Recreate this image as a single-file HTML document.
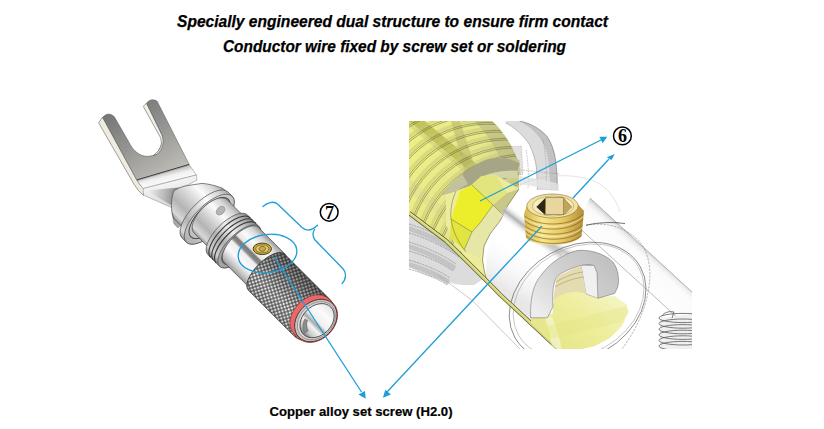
<!DOCTYPE html>
<html><head><meta charset="utf-8">
<style>
html,body{margin:0;padding:0;background:#fff;}
body{width:824px;height:429px;overflow:hidden;position:relative;font-family:"Liberation Sans",sans-serif;}
svg{position:absolute;left:0;top:0;}
</style></head>
<body>
<svg width="824" height="429" viewBox="0 0 824 429">
<defs>
<linearGradient id="spadeG" gradientUnits="userSpaceOnUse" x1="120" y1="100" x2="170" y2="180">
 <stop offset="0" stop-color="#727272"/><stop offset="0.45" stop-color="#929290"/><stop offset="1" stop-color="#c2c0ba"/>
</linearGradient>
<linearGradient id="bendG" gradientUnits="userSpaceOnUse" x1="160" y1="172" x2="163" y2="184">
 <stop offset="0" stop-color="#b8b8b8"/><stop offset="0.5" stop-color="#f2f2f2"/><stop offset="1" stop-color="#fafafa"/>
</linearGradient>
<linearGradient id="neckG" gradientUnits="userSpaceOnUse" x1="160" y1="185" x2="165" y2="205">
 <stop offset="0" stop-color="#f4f4f4"/><stop offset="1" stop-color="#d8d8d8"/>
</linearGradient>
<linearGradient id="silverG" x1="0" y1="0" x2="0" y2="1">
 <stop offset="0" stop-color="#a8a8a8"/><stop offset="0.12" stop-color="#d6d6d6"/><stop offset="0.32" stop-color="#fbfbfb"/><stop offset="0.55" stop-color="#d2d2d2"/><stop offset="0.75" stop-color="#b4b4b4"/><stop offset="0.92" stop-color="#d8d8d8"/><stop offset="1" stop-color="#9a9a9a"/>
</linearGradient>
<linearGradient id="silverG2" x1="0" y1="0" x2="0" y2="1">
 <stop offset="0" stop-color="#8a8a8a"/><stop offset="0.2" stop-color="#c8c8c8"/><stop offset="0.4" stop-color="#eeeeee"/><stop offset="0.65" stop-color="#b0b0b0"/><stop offset="0.9" stop-color="#d0d0d0"/><stop offset="1" stop-color="#8a8a8a"/>
</linearGradient>
<linearGradient id="silverG3" x1="0" y1="0" x2="0" y2="1">
 <stop offset="0" stop-color="#9a9a9a"/><stop offset="0.12" stop-color="#d8d8d8"/><stop offset="0.28" stop-color="#fafafa"/><stop offset="0.42" stop-color="#e6e6e6"/><stop offset="0.46" stop-color="#7a7a7a"/><stop offset="0.53" stop-color="#8a8a8a"/><stop offset="0.58" stop-color="#eeeeee"/><stop offset="0.75" stop-color="#fafafa"/><stop offset="0.9" stop-color="#c8c8c8"/><stop offset="1" stop-color="#9a9a9a"/>
</linearGradient>
<linearGradient id="faceG" x1="0" y1="0" x2="0" y2="1">
 <stop offset="0" stop-color="#c4c4c4"/><stop offset="0.5" stop-color="#e4e4e4"/><stop offset="1" stop-color="#b0b0b0"/>
</linearGradient>
<linearGradient id="holeG" x1="0" y1="0" x2="0" y2="1">
 <stop offset="0" stop-color="#e4e4e4"/><stop offset="0.25" stop-color="#fbfbfb"/><stop offset="0.5" stop-color="#f0f0f0"/><stop offset="0.6" stop-color="#a8a8a8"/><stop offset="0.7" stop-color="#f4f4f4"/><stop offset="0.88" stop-color="#c8c8c8"/><stop offset="1" stop-color="#7a7a7a"/>
</linearGradient>
<pattern id="knurlP" patternUnits="userSpaceOnUse" width="3.3" height="3.3" patternTransform="rotate(-62)">
 <rect width="3.3" height="3.3" fill="#444"/><rect x="0.5" y="0.5" width="2.35" height="2.35" fill="#eeeeee"/>
</pattern>
<linearGradient id="knurlShade" x1="0" y1="0" x2="0" y2="1">
 <stop offset="0" stop-color="#000" stop-opacity="0.45"/><stop offset="0.35" stop-color="#000" stop-opacity="0.25"/><stop offset="0.7" stop-color="#000" stop-opacity="0.0"/><stop offset="1" stop-color="#000" stop-opacity="0.12"/>
</linearGradient>
<clipPath id="rclip"><rect x="409" y="121" width="283" height="228"/></clipPath>
<linearGradient id="outerTopG" gradientUnits="userSpaceOnUse" x1="650" y1="253" x2="634" y2="271">
 <stop offset="0" stop-color="#d6d6d6"/><stop offset="0.12" stop-color="#eeeeee"/><stop offset="0.3" stop-color="#fbfbfb"/><stop offset="1" stop-color="#fdfdfd"/>
</linearGradient>
<linearGradient id="bandG" gradientUnits="userSpaceOnUse" x1="565" y1="228" x2="548" y2="250">
 <stop offset="0" stop-color="#fff"/><stop offset="0.5" stop-color="#b4b4b4"/><stop offset="1" stop-color="#f4f4f4"/>
</linearGradient>
<linearGradient id="slotYG" gradientUnits="userSpaceOnUse" x1="560" y1="345" x2="610" y2="285">
 <stop offset="0" stop-color="#e6e88a"/><stop offset="0.5" stop-color="#eeee9e"/><stop offset="1" stop-color="#f5f5c8"/>
</linearGradient>
<linearGradient id="archG" gradientUnits="userSpaceOnUse" x1="600" y1="255" x2="540" y2="315">
 <stop offset="0" stop-color="#c2c2c2"/><stop offset="0.5" stop-color="#d2d2d2"/><stop offset="1" stop-color="#ededed"/>
</linearGradient>
<linearGradient id="screwG" x1="0" y1="0" x2="1" y2="0">
 <stop offset="0" stop-color="#d6b44c"/><stop offset="0.3" stop-color="#f8e68c"/><stop offset="0.65" stop-color="#e6c866"/><stop offset="1" stop-color="#b48e36"/>
</linearGradient>
<linearGradient id="housLowG" gradientUnits="userSpaceOnUse" x1="530" y1="250" x2="505" y2="290">
 <stop offset="0" stop-color="#fff" stop-opacity="0"/><stop offset="1" stop-color="#d8d8d8"/>
</linearGradient>
<linearGradient id="condG" gradientUnits="userSpaceOnUse" x1="420" y1="140" x2="510" y2="175">
 <stop offset="0" stop-color="#ecee86"/><stop offset="0.6" stop-color="#e6e88c"/><stop offset="1" stop-color="#cfcf90"/>
</linearGradient>
<clipPath id="condClip"><path d="M409,121 L492,121 C502,130 511,144 515,154 C517.5,159 519,162 519.4,164.2 L519,189 L508,205 L500,221 L490,234 L484,246 L482.5,260 L484.5,272 L487,281 L445.6,240.5 L409,213 Z"/></clipPath>
<linearGradient id="neckTri" gradientUnits="userSpaceOnUse" x1="148" y1="192" x2="176" y2="195">
 <stop offset="0" stop-color="#f0f0f0"/><stop offset="0.6" stop-color="#b8b8b8"/><stop offset="1" stop-color="#8a8a8a"/>
</linearGradient>
<linearGradient id="bandA" gradientUnits="userSpaceOnUse" x1="537" y1="225.5" x2="527" y2="238.5">
 <stop offset="0" stop-color="#fff" stop-opacity="0"/><stop offset="0.5" stop-color="#b0b0b0"/><stop offset="1" stop-color="#fff" stop-opacity="0"/>
</linearGradient>
<linearGradient id="bandB" gradientUnits="userSpaceOnUse" x1="581.5" y1="251.5" x2="574.5" y2="265.5">
 <stop offset="0" stop-color="#fff" stop-opacity="0"/><stop offset="0.5" stop-color="#c4c4c4"/><stop offset="1" stop-color="#fff" stop-opacity="0"/>
</linearGradient>
</defs>
<g font-family="Liberation Sans" font-weight="bold" font-style="italic" font-size="16" fill="#000" stroke="#000" stroke-width="0.25">
<text x="177" y="27" textLength="431" lengthAdjust="spacingAndGlyphs">Specially engineered dual structure to ensure firm contact</text>
<text x="223" y="51.8" textLength="343" lengthAdjust="spacingAndGlyphs">Conductor wire fixed by screw set or soldering</text>
</g>
<text x="269.5" y="415.5" font-family="Liberation Sans" font-weight="bold" font-size="13" textLength="183" lengthAdjust="spacingAndGlyphs" fill="#000" stroke="#000" stroke-width="0.2">Copper alloy set screw (H2.0)</text>
<g id="left">
<!-- spade light strip (left prong thickness) -->
<path d="M98.6,122.8 L102.6,117.2 L137,180.2 Q140,185.5 144,189 L143.5,195.5 Q138,191 134.2,184.5 Z" fill="#efebe0" stroke="#444" stroke-width="0.5"/>
<!-- spade top face -->
<path d="M102.6,117.3 Q108.5,111 114.2,116.6 L128.6,141.6 C133,151 140,156.6 148,156.3 L153.2,155.6 C159,153 164.5,141 161.6,134.4 L146.4,103.4 Q150.5,97.6 157,101 L189.2,164.5 L136.8,180 Z" fill="url(#spadeG)" stroke="#555" stroke-width="0.5"/>
<!-- right prong thickness -->
<path d="M143.3,106.4 L146.4,103.3 L161.6,134.4 C164.5,141 163,149 157.5,154 L153.2,155.6 C158,152.5 161,148 161.4,143.5 C161.3,139.5 160.3,137 159.2,135.2 Z" fill="#f3f0e6" stroke="#444" stroke-width="0.5"/>
<!-- plate bottom edge dark line -->
<path d="M137,180 L189.2,164.5" stroke="#3a3a3a" stroke-width="1.2"/>
<!-- bend band -->
<path d="M137,180.6 L189.4,165 L196.4,175 L143,188.6 Z" fill="url(#bendG)" stroke="#666" stroke-width="0.4"/>
<!-- neck -->
<path d="M143,188.6 L196.4,175 L197,180 L186,186 L176,193 L171.5,207.5 L143.5,195.2 Z" fill="url(#neckG)" stroke="#666" stroke-width="0.4"/>
<path d="M146,190.5 L179,187.5 L171,205 Z" fill="url(#neckTri)"/>
<path d="M172,213 L177,212 L182,224 L178,228 L174,224 Z" fill="#a8a8a8" stroke="#666" stroke-width="0.4"/>
<!-- F-frame cylinder sections -->
<g transform="translate(314.6 320.3) rotate(45)" stroke="#3c3c3c" stroke-width="0.6">
 <!-- collar A -->
 <path d="M-158,-28.5 L-150,-28.5 L-150,27.5 L-172,27.5 L-178,24 C-184,19 -190,12 -191,7.5 C-190,2 -187,-3 -184.8,-5.8 L-176.4,-17.2 C-172,-21 -166,-25 -158,-28.5 Z" fill="url(#silverG)"/>
  <path d="M-152,-29.5 L-146,-29.5 A14,32.5 0 0 1 -146,35.5 L-152,35.5 A14,32.5 0 0 1 -152,-29.5 Z" fill="url(#silverG)"/>
 <ellipse cx="-146" cy="3" rx="14" ry="32.5" fill="url(#faceG)"/>
 <ellipse cx="-146.5" cy="2" rx="12" ry="26.5" fill="none" stroke="#444" stroke-width="1"/>
 <!-- shaft S1 -->
 <path d="M-147,-23.5 L-122,-23.5 A10.5,23.5 0 0 1 -122,23.5 L-147,23.5 A11.5,23.5 0 0 1 -147,-23.5 Z" fill="url(#silverG)"/>
 <ellipse cx="-144" cy="-11" rx="3.5" ry="5" fill="#b4b4b4" stroke="#777" stroke-width="0.5"/>
 <!-- ring group B -->
 <path d="M-122,-27 L-105.5,-27 A12,28 0 0 1 -105.5,29 L-122,29 A12,28 0 0 1 -122,-27 Z" fill="url(#silverG2)"/>
 <path d="M-118,-27 A12,28 0 0 0 -118,29 M-114,-27 A12,28 0 0 0 -114,29 M-110,-27 A12,28 0 0 0 -110,29" fill="none" stroke="#3a3a3a" stroke-width="1.1"/>
 <ellipse cx="-105.5" cy="1" rx="12" ry="28" fill="#a4a4a4"/>
 <ellipse cx="-105" cy="0" rx="10.5" ry="24" fill="none" stroke="#444" stroke-width="0.9"/>
 <!-- middle C -->
 <path d="M-105.5,-26 L-68,-26 A10.7,24.5 0 0 1 -68,23 L-105.5,23 A10.7,24.5 0 0 1 -105.5,-26 Z" fill="url(#silverG3)"/>
 <!-- knurl D -->
 <path d="M-68,-25.5 L-3,-25.5 A18,25.5 0 0 1 -3,25.5 L-68,25.5 A11,25.5 0 0 1 -68,-25.5 Z" fill="url(#knurlP)"/>
 <path d="M-68,-25.5 L-3,-25.5 A18,25.5 0 0 1 -3,25.5 L-68,25.5 A11,25.5 0 0 1 -68,-25.5 Z" fill="url(#knurlShade)" stroke="#333" stroke-width="0.5"/>
 <!-- red ring -->
 <path d="M-5,-25.2 L1,-25.2 A18.8,24.6 0 0 1 1,24 L-5,24 A18,24.6 0 0 1 -5,-25.2 Z" fill="#e86a68" stroke="#7a2a2a" stroke-width="0.6"/>
 <!-- end face -->
 <ellipse cx="1" cy="-0.7" rx="18.3" ry="23.8" fill="#c4c4c4" stroke="#5a2a2a" stroke-width="0.9"/>
 <ellipse cx="1.5" cy="-1" rx="16.3" ry="21.3" fill="#dadada" stroke="#666" stroke-width="0.5"/>
 <ellipse cx="2" cy="-1.5" rx="14.5" ry="19.3" fill="url(#holeG)" stroke="#3a3a3a" stroke-width="0.8"/>
 <path d="M-8,6 C-6,12 -2,15 2,16 L3,12 C0,11 -3,9 -5,5 Z" fill="#8a8a8a" stroke="#555" stroke-width="0.4"/>
</g>
<!-- screw on middle -->
<ellipse cx="262.3" cy="248.8" rx="10.5" ry="6.8" fill="#f2f2f2" opacity="0.9"/>
<ellipse cx="262.3" cy="248.8" rx="9.2" ry="5.8" fill="#c9a83c" stroke="#3a300c" stroke-width="0.9"/>
<ellipse cx="262.3" cy="248.8" rx="6.6" ry="4" fill="#e4cc6c" stroke="#5a4a14" stroke-width="0.6"/>
<path d="M258.8,248.8 L260.5,246.4 L264.1,246.4 L265.8,248.8 L264.1,251.2 L260.5,251.2 Z" fill="#c8a848" stroke="#3a300c" stroke-width="0.5"/>
</g>
<g id="right" clip-path="url(#rclip)">
<rect x="409" y="121" width="283" height="228" fill="#fff"/>
<!-- outer transparent cylinder top edge band -->
<path d="M590,198 L692,292 L692,331 L575,224 Z" fill="url(#outerTopG)"/>
<path d="M590,198 L692,292" stroke="#8a8a8a" stroke-width="0.6" fill="none"/>
<path d="M575,224 L692,331" stroke="#777" stroke-width="0.5" fill="none"/>
<!-- translucent ring at top -->
<path d="M505.7,121 L519.6,121 C530,123 541,129 547.3,136.8 C552,144 554.5,152 555.5,160 C557,170 557.5,180 557.2,190.3 L537.4,190 L536.5,168 C535.5,160 533,152 529.5,144.7 C524,136 513,126 505.7,123 Z" fill="#dcdcdc"/>
<path d="M519.6,121 C530,123 541,129 547.3,136.8 C552,144 554.5,152 555.5,160 C557,170 557.5,180 557.2,190.3 L550,190 C550,175 549,160 546,150 C542,138 533,128 519,121 Z" fill="#c2c2c2"/>
<path d="M519.6,121 C530,123 541,129 547.3,136.8 C552,144 554.5,152 555.5,160 C557,170 557.5,180 557.2,190.3" fill="none" stroke="#777" stroke-width="0.6"/>
<path d="M505.7,123 C513,126 524,136 529.5,144.7 C533,152 535.5,160 536.5,168 L537.4,190" fill="none" stroke="#888" stroke-width="0.5"/>
<path d="M509.6,146.7 L521.5,146 L523,174.5 L511,174.5 Z" fill="#e2e2e2" stroke="#999" stroke-width="0.4" stroke-dasharray="1.5 1"/>
<g fill="none" stroke="#8c8c8c" stroke-width="0.5" stroke-dasharray="1.6 1">
<path d="M519,160 L521,186"/>
<path d="M508,168 C520,170 540,172 560,174"/>
<path d="M543,140 C546,155 547,170 546,186"/>
<path d="M526,150 C528,160 529,175 528,188"/>
</g>
<path d="M519.6,176 C530,178 545,180 559,184 L559,191 C545,188 530,186 519.6,184 Z" fill="#e4e4e4" opacity="0.8"/>
<!-- lower-left gray rings of transparent housing -->
<path d="M409,213 L445.6,240.5 L466,260.5 L484,278.5 L474,285 L462,285 C445,283 425,275 409,267 Z" fill="#dcdcdc"/>
<g fill="#bcbcbc" opacity="0.75">
<path d="M409,226 Q436,234 462,252 L460,257 Q434,239 409,231 Z"/>
<path d="M409,244 Q436,252 456,266 L454,271 Q434,257 409,249 Z"/>
<path d="M409,262 Q436,270 450,280 L448,285 Q434,275 409,267 Z"/>
</g>
<g fill="none" stroke="#7a7a7a" stroke-width="0.6" stroke-dasharray="2 0.8">
<path d="M409,224 Q436,232 462,250"/>
<path d="M409,233 Q436,241 459,257"/>
<path d="M409,242 Q436,250 456,264"/>
<path d="M409,251 Q436,259 453,271"/>
<path d="M409,260 Q436,268 450,278"/>
<path d="M409,269 Q436,277 447,285"/>
</g>
<path d="M438,275 L471.7,300 L520,349" stroke="#a8a8a8" stroke-width="0.6" fill="none"/>
<!-- conductor (pale yellow) visible region -->
<path d="M409,121 L492,121 C502,130 511,144 515,154 C517.5,159 519,162 519.4,164.2 L519,189 L508,205 L500,221 L490,234 L484,246 L482.5,260 L484.5,272 L487,281 L445.6,240.5 L409,213 Z" fill="url(#condG)"/>
<!-- olive shading toward right silhouette -->
<path d="M474,121 L492,121 C502,130 511,144 515,154 C517.5,159 519,162 519.4,164.2 L505,168 C497,150 488,134 474,121 Z" fill="#a8a884" opacity="0.45"/>
<!-- dark diagonal bands + threads -->
<g clip-path="url(#condClip)">
<g transform="translate(483.4 200.9) rotate(39.7)">
<rect x="-200" y="-24" width="200" height="10" fill="#b4b44c" opacity="0.75"/>
<rect x="-200" y="-14" width="200" height="4" fill="#c8c878" opacity="0.45"/>
<rect x="-200" y="30" width="200" height="10" fill="#dede96" opacity="0.5"/>
</g>
<path d="M451,121 L460,121 L476,170 L465,172 Z" fill="#b4b46a" opacity="0.55"/>
<g fill="none" stroke="#c8c874" stroke-width="3.2" opacity="0.5">
<circle cx="451.5" cy="198.8" r="110.5"/>
<circle cx="460.5" cy="206.7" r="110.5"/>
<circle cx="469.5" cy="214.7" r="110.5"/>
<circle cx="478.5" cy="222.6" r="110.5"/>
<circle cx="487.5" cy="230.5" r="110.5"/>
<circle cx="496.5" cy="238.4" r="110.5"/>
<circle cx="505.5" cy="246.3" r="110.5"/>
<circle cx="514.5" cy="254.3" r="110.5"/>
<circle cx="523.5" cy="262.2" r="110.5"/>
<circle cx="532.5" cy="270.1" r="110.5"/>
<circle cx="541.5" cy="278.0" r="110.5"/>
<circle cx="550.5" cy="285.9" r="110.5"/>
<circle cx="559.5" cy="293.9" r="110.5"/>
</g>
<g fill="none" stroke="#6c6c3a" stroke-width="0.55">
<circle cx="451.5" cy="198.8" r="108"/>
<circle cx="451.5" cy="198.8" r="106.3"/>
<circle cx="460.5" cy="206.7" r="108"/>
<circle cx="460.5" cy="206.7" r="106.3"/>
<circle cx="469.5" cy="214.7" r="108"/>
<circle cx="469.5" cy="214.7" r="106.3"/>
<circle cx="478.5" cy="222.6" r="108"/>
<circle cx="478.5" cy="222.6" r="106.3"/>
<circle cx="487.5" cy="230.5" r="108"/>
<circle cx="487.5" cy="230.5" r="106.3"/>
<circle cx="496.5" cy="238.4" r="108"/>
<circle cx="496.5" cy="238.4" r="106.3"/>
<circle cx="505.5" cy="246.3" r="108"/>
<circle cx="505.5" cy="246.3" r="106.3"/>
<circle cx="514.5" cy="254.3" r="108"/>
<circle cx="514.5" cy="254.3" r="106.3"/>
<circle cx="523.5" cy="262.2" r="108"/>
<circle cx="523.5" cy="262.2" r="106.3"/>
<circle cx="532.5" cy="270.1" r="108"/>
<circle cx="532.5" cy="270.1" r="106.3"/>
<circle cx="541.5" cy="278.0" r="108"/>
<circle cx="541.5" cy="278.0" r="106.3"/>
<circle cx="550.5" cy="285.9" r="108"/>
<circle cx="550.5" cy="285.9" r="106.3"/>
<circle cx="559.5" cy="293.9" r="108"/>
<circle cx="559.5" cy="293.9" r="106.3"/>
</g>
</g>
<!-- olive crescent (end of threads) -->
<path d="M442,195 C452,182 466,168 484,160.4 C496,156 510,157 519.4,164.2 L517.5,171 C505,170 495,172 481,176.5 L471,185.6 L456,191.2 Z" fill="#a6a686"/>
<path d="M442,195 C448,186 455,179 462,174 L468,184 L456,191.2 Z" fill="#c2c29c"/>
<path d="M481,176.5 C495,172 505,170 517.5,171 L518,178 C508,177 496,178 486,181 Z" fill="#d4d4a8"/>
<!-- core facets -->
<path d="M446,195 L456,191 L471,185.6 L481,176.5 L495,174.4 L519,189 L508,205 L500,221 L490,234 L484,246 L482.5,260 L484.5,272 L487,281 L470,262 L455,245 L446,225 Z" fill="#ecec9c"/>
<path d="M460,191 L472,185 L493,205 L480,223 L472,232 L451,219 Z" fill="#ecee2c"/>
<path d="M472,185 L481,176.5 L496,175 L507,193 L493,205 Z" fill="#e2e47e"/>
<path d="M493,205 L507,193 L519,189 L508,205 L503,215 Z" fill="#c8c888"/>
<path d="M451,219 L472,232 L464,250 L450,237 Z" fill="#e2e440"/>
<path d="M472,232 L480,223 L493,205 L503,215 L490,234 L484,246 L480,258 L464,250 Z" fill="#e6e6a6"/>
<g fill="none" stroke="#6a6a40" stroke-width="0.5">
<path d="M456,191 C452,200 450,210 451,219 C453,232 458,242 466,252"/>
<path d="M472,185 L493,205 L503,215"/>
<path d="M451,219 L472,232 L480,223 L493,205"/>
<path d="M472,232 L464,250"/>
</g>
<!-- housing left arc edge -->
<path d="M519,189 L508,205 L500,221 L490,234 L484,246 L482.5,260 L484.5,272 L487,281" fill="none" stroke="#6a6a40" stroke-width="0.6"/>
<!-- housing lower shading -->
<path d="M487,281 C483,255 493,228 508,206 L540,240 L556,346 L545,336 Z" fill="url(#housLowG)" opacity="0.6"/>
<!-- housing end rim around screw -->
<path d="M512,192 C525,178 555,172 585,178 C603,182 615,195 620,212" fill="none" stroke="#c8c8c8" stroke-width="0.5"/>
<!-- housing gray band -->
<path d="M496,217 L510,204 L570,248 L556,261 Z" fill="url(#bandA)"/>
<path d="M534,247 L548,233 L620,270 L612,286 Z" fill="url(#bandB)"/>
<!-- big ellipse end of housing -->
<ellipse cx="577.6" cy="302.2" rx="72" ry="55.7" transform="rotate(-29.5 577.6 302.2)" fill="none" stroke="#555" stroke-width="0.6"/>
<ellipse cx="578.6" cy="301.2" rx="69" ry="53" transform="rotate(-29.5 578.6 301.2)" fill="none" stroke="#999" stroke-width="0.5"/>
<path d="M586,225 C605,222 625,226 640,242 C650,254 652,275 648,292 C645,310 636,330 622,349" fill="none" stroke="#777" stroke-width="0.5" stroke-dasharray="2.5 1"/>
<path d="M586,225.3 C600,222 615,222 625,223.6" fill="none" stroke="#333" stroke-width="0.7"/>
<!-- yellow stripe along lower silhouette -->
<polyline points="409,213 445.6,240.5 466,260.5 490,284.3 500,294.5 544,335.5 559,349.5" fill="none" stroke="#5e5e2c" stroke-width="4.2" stroke-linejoin="round"/>
<polyline points="409,213 445.6,240.5 466,260.5 490,284.3 500,294.5 544,335.5 559,349.5" fill="none" stroke="#d4d47c" stroke-width="2.8" stroke-linejoin="round"/>
<polyline points="409,213 445.6,240.5 466,260.5 490,284.3 500,294.5 544,335.5 559,349.5" fill="none" stroke="#ecec9e" stroke-width="0.9" stroke-linejoin="round" transform="translate(0.4 -0.6)"/>
<!-- yellow inside ellipse -->
<path d="M531,318 L552.6,314 L553,306 L556,281.5 L577,281.5 L592,295 L596,297 L615,296 L626.6,304.4 L628.5,312 L622,326 L610,338 L595,346 L580,349.5 L559,349.5 L544,335.5 L531,323.5 Z" fill="url(#slotYG)"/>
<path d="M531,318 L543,316.5 L545,333.5 L531,323.5 Z" fill="#e6e68e"/>
<path d="M545,318 C549,328 551,338 552,349.5 L562,349.5 C560,338 556,326 552,316 Z" fill="#fafae4" opacity="0.55"/>
<path d="M546,340 L622,322 L628.5,312 L626,306 L546,326 Z" fill="#e2e482" opacity="0.35"/>
<!-- housing gray band under arch -->

<!-- U slot arch -->
<path d="M530.6,317.8 C530,300 533,285 540,276.7 C548,265 560,255 577,250.6 C590,249 605,254 612.7,261.8 C618,268 620,280 617.4,288 L614.6,293.5 L597.8,298.2 L597,273 L594,265.5 C588,264 584,264.5 581,265.5 C572,268 562,272 556.7,276.7 C553,283 552,295 553,306.6 L547.4,317.8 Z" fill="url(#archG)" stroke="#666" stroke-width="0.5"/>
<path d="M581,265.5 L594,265.5 L597,273 L597.8,298.2 L586,294 Z" fill="#f0f0f0" stroke="#777" stroke-width="0.4"/>
<path d="M556.7,277 C566,272 574,268 581,266 L586,294 C575,290 565,292 553,300 Z" fill="#e4dcb0"/>
<g fill="none" stroke="#9a8a50" stroke-width="0.5"><path d="M556,282 C566,276 575,273 583,272"/><path d="M555,287 C565,281 575,278 584,277"/></g>
<!-- screw -->
<path d="M526.8,206 L524,214 L526,238 C533,247 572,248 581.5,236 L584,211 L578.3,204.7 Z" fill="url(#screwG)"/>
<g fill="none" stroke="#7a5e18" stroke-width="0.65">
<path d="M524.5,216 C538,227 570,227 583.5,214"/>
<path d="M524.8,221 C538,232 570,232 583.2,219.5"/>
<path d="M525.2,226 C538,237 570,237 582.8,225"/>
<path d="M525.6,231 C538,242 570,242 582.2,230.5"/>
<path d="M526,236 C538,246 570,246 581.6,235.5"/>
</g>
<g fill="none" stroke="#fff4c8" stroke-width="0.8" opacity="0.8">
<path d="M525,218.5 C538,229.5 570,229.5 583.3,216.5"/>
<path d="M525.4,228.5 C538,239.5 570,239.5 582.5,227.5"/>
</g>
<ellipse cx="552.5" cy="206" rx="25.7" ry="12" fill="#f0e2a4" stroke="#8a6e28" stroke-width="0.6"/>
<ellipse cx="553" cy="206" rx="20.5" ry="10" fill="#f6ecbc" stroke="#a08840" stroke-width="0.5"/>
<path d="M536.7,207 L545.8,197.8 L563.2,197.8 L571.5,207 L564,214.5 L545,214.5 Z" fill="#d8c070" stroke="#4a3a10" stroke-width="0.6"/>
<path d="M536.7,207 L545.8,197.8 L545,214.5 Z" fill="#2e2614"/>
<path d="M563.2,197.8 L571.5,207 L564,214.5 Z" fill="#c0a458"/>
<rect x="545.5" y="198" width="18" height="16.3" fill="#e8d69e"/>
<path d="M545.5,198 L545.5,214.3 M563.5,198 L563.5,214.3" stroke="#6a5a28" stroke-width="0.5"/>
<!-- spring coil -->
<path d="M660,318 L692,314 L692,349 L660,349 Z" fill="#f0f0f0"/>
<g fill="none" stroke="#5a5a5a" stroke-width="0.8">
<ellipse cx="683" cy="318.0" rx="24" ry="4.6"/>
<ellipse cx="683" cy="323.6" rx="24" ry="4.6"/>
<ellipse cx="683" cy="329.2" rx="24" ry="4.6"/>
<ellipse cx="683" cy="334.8" rx="24" ry="4.6"/>
<ellipse cx="683" cy="340.4" rx="24" ry="4.6"/>
<ellipse cx="683" cy="346.0" rx="24" ry="4.6"/>
<path d="M662,316 C664,312 670,311 674,312 L672,318"/>
</g>
</g>
</g>
<g fill="none" stroke="#1c9ed8" stroke-width="1.3">
<ellipse cx="267.5" cy="253.5" rx="29.5" ry="19" transform="rotate(-8 267.5 253.5)"/>
<line x1="274" y1="257" x2="361.5" y2="392"/>
<line x1="542" y1="226" x2="387" y2="392"/>
<line x1="480" y1="201" x2="601" y2="140"/>
<line x1="573" y1="198" x2="609" y2="159"/>
<path d="M263,206.5 C266.5,202.8 273.5,200.5 277.5,204 L302,227.5 C306.5,231.5 312,230.5 317.4,225.2 M314.5,229.5 C312.5,232.5 312.5,237 315,240 L343,268.8 C346.5,272.5 346.5,279 342,283.6" stroke-linecap="round"/>
</g>
<g fill="#1c9ed8">
<polygon points="365.7,398.8 358.4,394.6 365,391.1"/>
<polygon points="382.9,397.7 385.3,389.7 390.9,394.6"/>
<polygon points="607.3,136.7 599.4,136.7 602.6,143.2"/>
<polygon points="614.8,153.9 606.8,157.2 611.5,160"/>
</g>
<g fill="#fff" stroke="#000" stroke-width="1.5">
<circle cx="622.4" cy="135.9" r="8.9"/>
<circle cx="329.2" cy="212.3" r="8.9"/>
</g>
<g font-family="Liberation Serif" font-weight="bold" font-size="18" text-anchor="middle" fill="#000">
<text x="622.6" y="142.3">6</text>
<text x="329.4" y="218.6">7</text>
</g>
</svg>
</body></html>
